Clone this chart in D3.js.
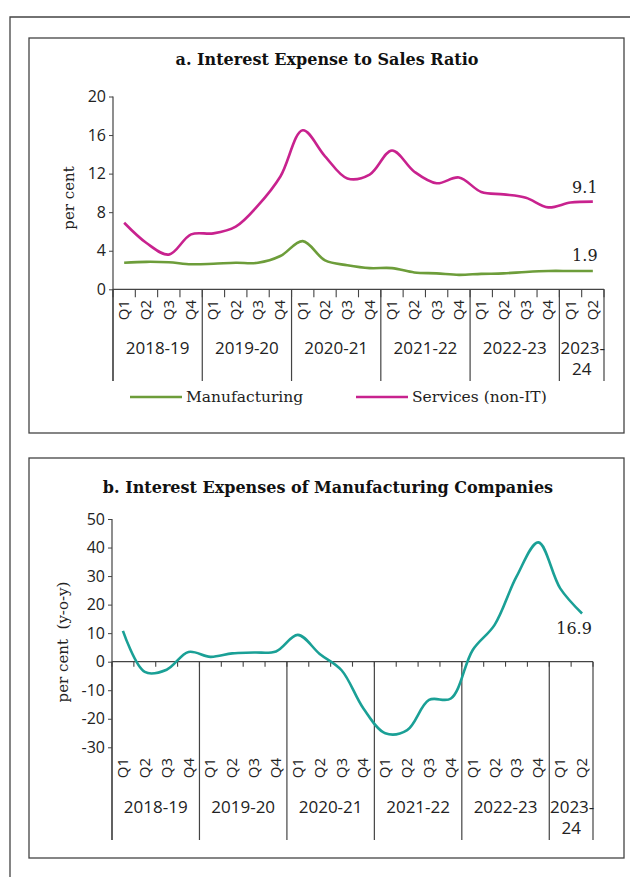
<!DOCTYPE html>
<html>
<head>
<meta charset="utf-8">
<script src="https://cdn.jsdelivr.net/npm/d3@7"></script>
<style>
  body { margin: 0; background: #fff; }
  svg { display: block; }
</style>
</head>
<body>
<div id="chart"></div>
<script>
// quarters and fiscal years on the x axis
const quarters = ["Q1","Q2","Q3","Q4","Q1","Q2","Q3","Q4","Q1","Q2","Q3","Q4",
                  "Q1","Q2","Q3","Q4","Q1","Q2","Q3","Q4","Q1","Q2"];
const years = ["2018-19","2019-20","2020-21","2021-22","2022-23","2023-24"];
const quartersPerYear = [4, 4, 4, 4, 4, 2];

// panel a: interest expense to sales ratio (per cent)
const manufacturing = [2.75, 2.85, 2.8, 2.6, 2.65, 2.75, 2.75, 3.45, 5.0, 3.0, 2.5, 2.2,
                       2.2, 1.75, 1.65, 1.5, 1.6, 1.65, 1.8, 1.9, 1.9, 1.9];
const services = [6.9, 4.8, 3.6, 5.7, 5.8, 6.5, 8.7, 11.7, 16.5, 13.8, 11.5, 11.9,
                  14.4, 12.2, 11.0, 11.6, 10.1, 9.85, 9.5, 8.5, 9.0, 9.1];
const ticksA = [0, 4, 8, 12, 16, 20];

// panel b: interest expenses of manufacturing companies (y-o-y, per cent)
const interestGrowth = [10.8, -3.6, -2.8, 3.4, 1.7, 2.9, 3.2, 3.6, 9.4, 2.7, -3.0, -16.4,
                        -25.1, -24.0, -13.4, -12.9, 4.1, 12.9, 29.8, 41.8, 25.7, 16.9];
const ticksB = [-30, -20, -10, 0, 10, 20, 30, 40, 50];

const width = 630, height = 877;
const svg = d3.select("#chart").append("svg")
  .attr("width", width).attr("height", height);

const sans = "'Open Sans', sans-serif";
const serif = "'DejaVu Serif', serif";

// outer frame (partly outside the picture)
svg.append("path")
  .attr("d", "M10,877 L10,17 L632,17")
  .attr("fill", "none").attr("stroke", "#444").attr("stroke-width", 1.3);

function drawPanel(p) {
  const g = svg.append("g");
  g.append("rect")
    .attr("x", p.box[0]).attr("y", p.box[1])
    .attr("width", p.box[2]).attr("height", p.box[3])
    .attr("fill", "none").attr("stroke", "#444").attr("stroke-width", 1.3);

  g.append("text")
    .attr("x", p.titleX).attr("y", p.titleY)
    .attr("text-anchor", "middle")
    .style("font-family", serif).style("font-weight", "bold").style("font-size", "16px")
    .attr("fill", "#111")
    .text(p.title);

  const x = d3.scaleBand().domain(d3.range(quarters.length)).range([p.x0, p.x1]);
  const y = d3.scaleLinear().domain(p.domain).range([p.yBottom, p.yTop]);
  const axisY = y(p.axisAt);

  // y axis
  const yAxis = g.append("g")
    .attr("transform", `translate(${p.x0},0)`)
    .call(d3.axisLeft(y).tickValues(p.ticks).tickFormat(d => String(d))
      .tickSize(4).tickPadding(3).tickSizeOuter(0));
  yAxis.select(".domain").remove();
  yAxis.selectAll("line").attr("stroke", "#444");
  yAxis.selectAll("text")
    .style("font-family", sans).style("font-size", "16px").attr("fill", "#222");
  g.append("line")
    .attr("x1", p.x0).attr("x2", p.x0)
    .attr("y1", y(p.domain[1])).attr("y2", p.lineBottom)
    .attr("stroke", "#444").attr("stroke-width", 1.2);

  g.append("text")
    .attr("transform", `translate(${p.yLabelX},${p.yLabelY}) rotate(-90)`)
    .attr("text-anchor", "middle")
    .style("font-family", serif).style("font-size", "15px").attr("fill", "#222")
    .style("white-space", "pre")
    .text(p.yLabel);

  // x axis line and quarter ticks
  g.append("line")
    .attr("x1", p.x0).attr("x2", p.x1)
    .attr("y1", axisY).attr("y2", axisY)
    .attr("stroke", "#444").attr("stroke-width", 1.2);
  g.selectAll(".qtick")
    .data(d3.range(quarters.length + 1))
    .join("line")
    .attr("x1", d => p.x0 + d * x.step()).attr("x2", d => p.x0 + d * x.step())
    .attr("y1", axisY).attr("y2", axisY + p.tickLen)
    .attr("stroke", "#444").attr("stroke-width", 1.1);

  // year separators
  let cum = 0;
  const bounds = [0];
  quartersPerYear.forEach(n => { cum += n; bounds.push(cum); });
  g.selectAll(".ysep")
    .data(bounds)
    .join("line")
    .attr("x1", d => p.x0 + d * x.step()).attr("x2", d => p.x0 + d * x.step())
    .attr("y1", axisY).attr("y2", p.lineBottom)
    .attr("stroke", "#444").attr("stroke-width", 1.2);

  // quarter labels
  g.selectAll(".qlab")
    .data(quarters)
    .join("text")
    .attr("transform", (d, i) => `translate(${x(i) + x.bandwidth() / 2 + 5},${p.qLabelY}) rotate(-90)`)
    .attr("text-anchor", "end")
    .style("font-family", sans).style("font-size", "15px").attr("fill", "#222")
    .text(d => d);

  // year labels
  years.forEach((yr, i) => {
    const cx = p.x0 + (bounds[i] + bounds[i + 1]) / 2 * x.step();
    const t = g.append("text")
      .attr("x", cx).attr("y", p.yearLabelY)
      .attr("text-anchor", "middle")
      .style("font-family", sans).style("font-size", "17px").attr("fill", "#222");
    if (quartersPerYear[i] < 4) {
      const parts = [yr.slice(0, 5), yr.slice(5)];
      t.append("tspan").attr("x", cx + 1).text(parts[0]);
      t.append("tspan").attr("x", cx).attr("dy", 21).text(parts[1]);
    } else {
      t.text(yr);
    }
  });

  const line = d3.line()
    .x((d, i) => x(i) + x.bandwidth() / 2)
    .y(d => y(d))
    .curve(d3.curveCatmullRom.alpha(0.5));

  p.series.forEach(s => {
    g.append("path")
      .datum(s.values)
      .attr("d", line)
      .attr("fill", "none")
      .attr("stroke", s.color)
      .attr("stroke-width", 2.6)
      .attr("stroke-linejoin", "round");
    const last = s.values.length - 1;
    g.append("text")
      .attr("x", x(last) + x.bandwidth() / 2 - 8)
      .attr("y", y(s.values[last]) + s.labelDy)
      .attr("text-anchor", "middle")
      .style("font-family", serif).style("font-size", "16px").attr("fill", "#222")
      .text(d3.format(".1f")(s.values[last]));
  });

  if (p.legend) {
    p.series.forEach(s => {
      g.append("line")
        .attr("x1", s.legendX).attr("x2", s.legendX + 52)
        .attr("y1", p.legendY).attr("y2", p.legendY)
        .attr("stroke", s.color).attr("stroke-width", 2.6);
      g.append("text")
        .attr("x", s.legendX + 56).attr("y", p.legendY + 5)
        .style("font-family", serif).style("font-size", "15.5px").attr("fill", "#222")
        .text(s.name);
    });
  }
}

drawPanel({
  box: [29, 38, 595, 395],
  title: "a. Interest Expense to Sales Ratio",
  titleX: 327, titleY: 65,
  x0: 113, x1: 604,
  domain: [0, 20], yBottom: 289.3, yTop: 96.5, axisAt: 0,
  ticks: ticksA,
  tickLen: 8,
  lineBottom: 381,
  qLabelY: 300,
  yearLabelY: 354,
  yLabel: "per cent", yLabelX: 74, yLabelY: 198,
  legend: true, legendY: 397,
  series: [
    { name: "Manufacturing", values: manufacturing, color: "#6d9d3a", labelDy: -10, legendX: 130 },
    { name: "Services (non-IT)", values: services, color: "#c8228e", labelDy: -9, legendX: 356 }
  ]
});

drawPanel({
  box: [29, 458, 595, 400],
  title: "b. Interest Expenses of Manufacturing Companies",
  titleX: 328, titleY: 493,
  x0: 112, x1: 593,
  domain: [-30, 50], yBottom: 747.3, yTop: 519, axisAt: 0,
  ticks: ticksB,
  tickLen: 5,
  lineBottom: 840,
  qLabelY: 758,
  yearLabelY: 813,
  yLabel: "per cent  (y-o-y)", yLabelX: 68, yLabelY: 642,
  legend: false,
  series: [
    { name: "Manufacturing", values: interestGrowth, color: "#1aa096", labelDy: 21 }
  ]
});
</script>
</body>
</html>
